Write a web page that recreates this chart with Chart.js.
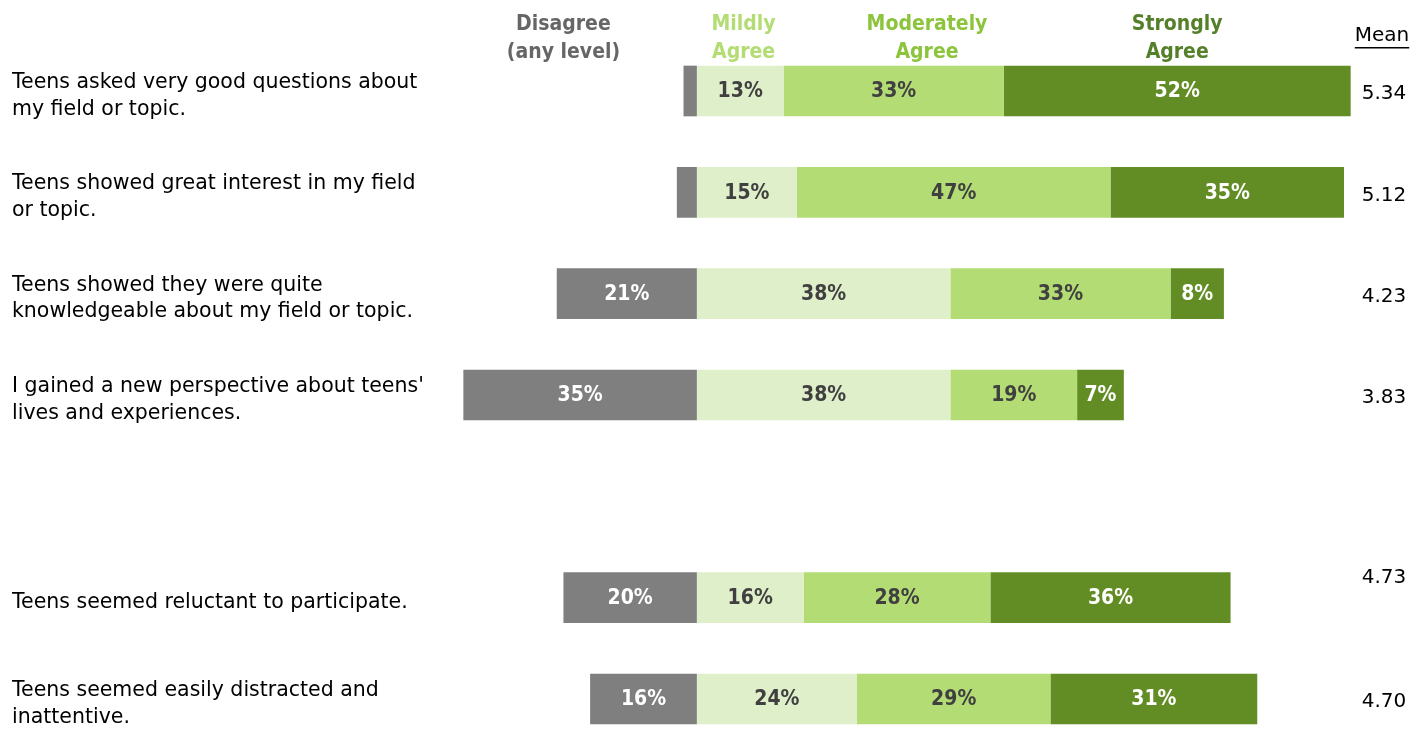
<!DOCTYPE html>
<html>
<head>
<meta charset="utf-8">
<script src="https://cdn.jsdelivr.net/npm/chart.js@4/dist/chart.umd.min.js"></script>
<style>
  html, body { margin: 0; padding: 0; background: #fff; }
  #wrap { width: 1428px; height: 731px; position: relative; }
</style>
</head>
<body>
<div id="wrap"><canvas id="chart"></canvas></div>
<script>
  // ---- Data ----
  const statements = [
    ['Teens asked very good questions about', 'my field or topic.'],
    ['Teens showed great interest in my field', 'or topic.'],
    ['Teens showed they were quite', 'knowledgeable about my field or topic.'],
    ["I gained a new perspective about teens'", 'lives and experiences.'],
    '',
    'Teens seemed reluctant to participate.',
    ['Teens seemed easily distracted and', 'inattentive.']
  ];
  const disagree = [-2, -3, -21, -35, null, -20, -16];
  const mildly = [13, 15, 38, 38, null, 16, 24];
  const moderately = [33, 47, 33, 19, null, 28, 29];
  const strongly = [52, 35, 8, 7, null, 36, 31];
  const means = ['5.34', '5.12', '4.23', '3.83', '', '4.73', '4.70'];
  const headers = [
    { text: ['Disagree', '(any level)'], at: -20, color: '#666666' },
    { text: ['Mildly', 'Agree'], at: 7, color: '#b3dc73' },
    { text: ['Moderately', 'Agree'], at: 34.5, color: '#8cc43c' },
    { text: ['Strongly', 'Agree'], at: 72, color: '#55802a' }
  ];

  const FONT = '"DejaVu Sans", sans-serif';
  const BOLD = '"DejaVu Sans Condensed", "DejaVu Sans", sans-serif';

  // ---- Plugin: segment values, column headers, means ----
  const annotate = {
    id: 'annotate',
    afterDatasetsDraw(chart) {
      const ctx = chart.ctx;
      const x = chart.scales.x;
      const y = chart.scales.y;
      ctx.save();
      ctx.textAlign = 'center';
      ctx.textBaseline = 'middle';

      // percent inside each bar segment
      ctx.font = 'bold 21px ' + BOLD;
      chart.data.datasets.forEach((ds, di) => {
        chart.getDatasetMeta(di).data.forEach((bar, i) => {
          const v = ds.data[i];
          if (v == null || Math.abs(v) < 5) return;
          ctx.fillStyle = ds.labelColor;
          ctx.fillText(Math.abs(v) + '%', (bar.x + bar.base) / 2, bar.y + 1);
        });
      });

      // column headers
      headers.forEach(h => {
        ctx.fillStyle = h.color;
        h.text.forEach((line, k) => ctx.fillText(line, x.getPixelForValue(h.at), 25 + k * 28));
      });

      // means column
      ctx.font = '20px ' + FONT;
      ctx.fillStyle = '#000';
      ctx.fillText('Mean', 1382, 36);
      const w = ctx.measureText('Mean').width;
      ctx.fillRect(1382 - w / 2, 47, w, 1.5);
      means.forEach((m, i) => {
        if (!m) return;
        const shift = i === 5 ? -20 : 3;   // this one sits above its bar
        ctx.fillText(m, 1384, y.getPixelForValue(i) + shift);
      });
      ctx.restore();
    }
  };

  const bar = (label, data, color, labelColor) => ({
    label, data,
    backgroundColor: color,
    labelColor,
    borderWidth: 0,
    barPercentage: 0.5,
    categoryPercentage: 1,
    clip: false
  });

  new Chart(document.getElementById('chart'), {
    type: 'bar',
    data: {
      labels: statements,
      datasets: [
        bar('Disagree (any level)', disagree, '#7f7f7f', '#ffffff'),
        bar('Mildly Agree', mildly, '#dfefc9', '#404040'),
        bar('Moderately Agree', moderately, '#b3dc74', '#404040'),
        bar('Strongly Agree', strongly, '#628c24', '#ffffff')
      ]
    },
    options: {
      indexAxis: 'y',
      responsive: true,
      maintainAspectRatio: false,
      animation: false,
      layout: { padding: { left: 12, right: 64, top: 91, bottom: 32 } },
      plugins: { legend: { display: false }, tooltip: { enabled: false } },
      scales: {
        x: { stacked: true, min: -40, max: 100, display: false },
        y: {
          stacked: true,
          offset: false,
          grid: { display: false },
          border: { display: false },
          ticks: {
            crossAlign: 'far',
            labelOffset: 5,
            color: '#000',
            font: { family: FONT, size: 20.5, lineHeight: 1.3 }
          },
          afterFit(scale) { scale.width = 418; }
        }
      }
    },
    plugins: [annotate]
  });
</script>
</body>
</html>
